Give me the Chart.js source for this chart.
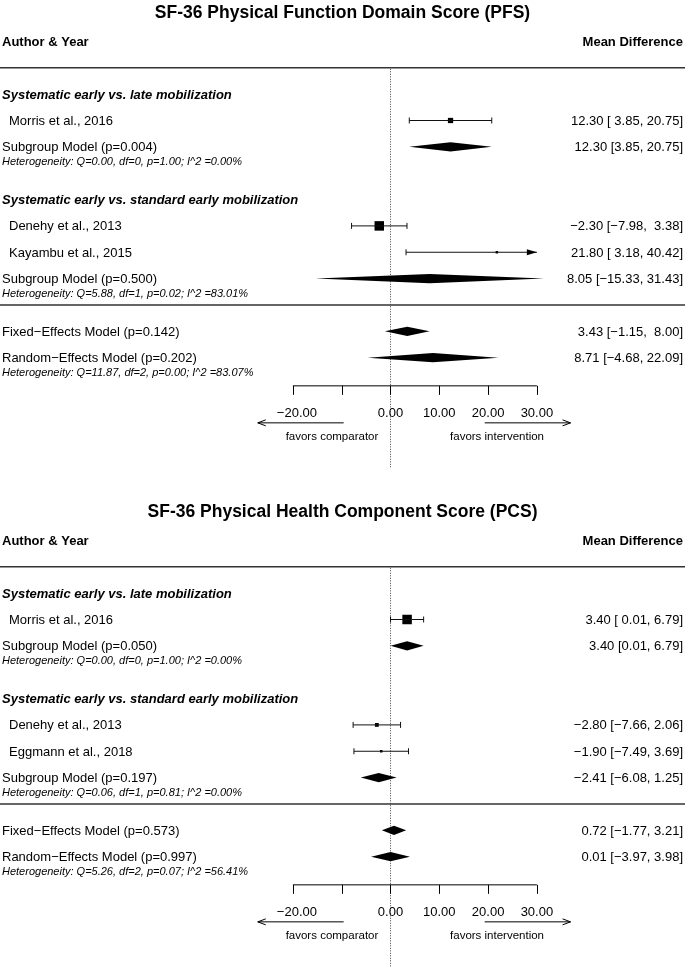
<!DOCTYPE html>
<html>
<head>
<meta charset="utf-8">
<script src="https://cdn.jsdelivr.net/npm/chart.js@4.4.0/dist/chart.umd.min.js"></script>
<style>
  body { margin: 0; background: #fff; }
  canvas { display: block; }
</style>
</head>
<body>
<canvas id="pfsChart" width="685" height="499"></canvas>
<canvas id="pcsChart" width="685" height="468"></canvas>

<script>
    // shared axis / groups
    const axisTicks = [-20, -10, 0, 10, 20, 30];
    const axisTickLabels = ["\u221220.00", "", "0.00", "10.00", "20.00", "30.00"];
    const groupNames = ["Systematic early vs. late mobilization", "Systematic early vs. standard early mobilization"];

    // SF-36 PFS
    const pfsTitle = "SF-36 Physical Function Domain Score (PFS)";
    const pfsStudies = ["Morris et al., 2016", "Denehy et al., 2013", "Kayambu et al., 2015"];
    const pfsEst = [12.30, -2.30, 21.80];
    const pfsLow = [3.85, -7.98, 3.18];
    const pfsHigh = [20.75, 3.38, 40.42];
    const pfsWeight = [29.3, 64.7, 6.0];
    const pfsStudyText = ["12.30 [ 3.85, 20.75]", "\u22122.30 [\u22127.98,  3.38]", "21.80 [ 3.18, 40.42]"];
    const pfsModels = ["Subgroup Model (p=0.004)", "Subgroup Model (p=0.500)", "Fixed\u2212Effects Model (p=0.142)", "Random\u2212Effects Model (p=0.202)"];
    const pfsModelEst = [12.30, 8.05, 3.43, 8.71];
    const pfsModelLow = [3.85, -15.33, -1.15, -4.68];
    const pfsModelHigh = [20.75, 31.43, 8.00, 22.09];
    const pfsModelText = ["12.30 [3.85, 20.75]", "8.05 [\u221215.33, 31.43]", "3.43 [\u22121.15,  8.00]", "8.71 [\u22124.68, 22.09]"];
    const pfsHet = ["Heterogeneity: Q=0.00, df=0, p=1.00; I^2 =0.00%", "Heterogeneity: Q=5.88, df=1, p=0.02; I^2 =83.01%", "", "Heterogeneity: Q=11.87, df=2, p=0.00; I^2 =83.07%"];

    // SF-36 PCS
    const pcsTitle = "SF-36 Physical Health Component Score (PCS)";
    const pcsStudies = ["Morris et al., 2016", "Denehy et al., 2013", "Eggmann et al., 2018"];
    const pcsEst = [3.40, -2.80, -1.90];
    const pcsLow = [0.01, -7.66, -7.49];
    const pcsHigh = [6.79, 2.06, 3.69];
    const pcsWeight = [53.9, 26.3, 19.8];
    const pcsStudyText = ["3.40 [ 0.01, 6.79]", "\u22122.80 [\u22127.66, 2.06]", "\u22121.90 [\u22127.49, 3.69]"];
    const pcsModels = ["Subgroup Model (p=0.050)", "Subgroup Model (p=0.197)", "Fixed\u2212Effects Model (p=0.573)", "Random\u2212Effects Model (p=0.997)"];
    const pcsModelEst = [3.40, -2.41, 0.72, 0.01];
    const pcsModelLow = [0.01, -6.08, -1.77, -3.97];
    const pcsModelHigh = [6.79, 1.25, 3.21, 3.98];
    const pcsModelText = ["3.40 [0.01, 6.79]", "\u22122.41 [\u22126.08, 1.25]", "0.72 [\u22121.77, 3.21]", "0.01 [\u22123.97, 3.98]"];
    const pcsHet = ["Heterogeneity: Q=0.00, df=0, p=1.00; I^2 =0.00%", "Heterogeneity: Q=0.06, df=1, p=0.81; I^2 =0.00%", "", "Heterogeneity: Q=5.26, df=2, p=0.07; I^2 =56.41%"];

    const FONT = "'Liberation Sans', Arial, Helvetica, sans-serif";

    function forest(id, d) {
        const canvas = document.getElementById(id);
        const W = canvas.width, H = canvas.height;
        // row layout (rows counted up from the axis)
        const studyRows = [10, 6, 5];
        const modelRows = [9, 4, 2, 1];
        const headingRows = [11, 7];
        const ruleRows = [12, 3];
        const headerRow = 13, titleRow = 14.12, axisRow = -0.07, bottomRow = -3.19;
        const rowPx = 26.35, row0Px = 384;
        const pxPerUnit = 4.88, zeroPx = 390.5;
        const alim = [axisTicks[0], axisTicks[axisTicks.length - 1]];
        const dy = 1; // text nudge so glyphs sit centred on the row

        const wMin = Math.min(...d.weight), wMax = Math.max(...d.weight);
        const boxSide = d.weight.map(w => 2.5 + 7 * (w - wMin) / (wMax - wMin));

        const datasets = d.est.map((v, i) => ({
            label: d.studies[i] + " CI",
            data: [{x: Math.max(d.low[i], alim[0]), y: studyRows[i]}, {x: Math.min(d.high[i], alim[1]), y: studyRows[i]}],
            showLine: true, borderColor: '#111', borderWidth: 1, pointRadius: 0
        }));
        datasets.push({
            label: "estimate",
            data: d.est.map((v, i) => ({x: v, y: studyRows[i]})),
            pointStyle: 'rect',
            pointRadius: boxSide.map(s => s * Math.SQRT1_2),
            backgroundColor: '#000', borderColor: '#000', borderWidth: 0
        });

        const forestDraw = {
            id: 'forestDraw',
            beforeDatasetsDraw(chart) {
                const ctx = chart.ctx, xs = chart.scales.x, ys = chart.scales.y;
                const X = v => xs.getPixelForValue(v), Y = r => ys.getPixelForValue(r);
                ctx.save();
                // rules
                ctx.strokeStyle = '#333';
                ctx.lineWidth = 1.5;
                ruleRows.forEach(r => {
                    ctx.beginPath();
                    ctx.moveTo(chart.chartArea.left, Y(r));
                    ctx.lineTo(chart.chartArea.right, Y(r));
                    ctx.stroke();
                });
                // zero line
                ctx.strokeStyle = '#444';
                ctx.lineWidth = 1;
                ctx.setLineDash([1, 1.5]);
                ctx.beginPath();
                ctx.moveTo(Math.round(X(0)) + 0.5, Y(ruleRows[0]) + 1);
                ctx.lineTo(Math.round(X(0)) + 0.5, Y(bottomRow));
                ctx.stroke();
                ctx.restore();
            },
            afterDatasetsDraw(chart) {
                const ctx = chart.ctx, xs = chart.scales.x, ys = chart.scales.y;
                const X = v => xs.getPixelForValue(v), Y = r => ys.getPixelForValue(r);
                const L = chart.chartArea.left, R = chart.chartArea.right;
                ctx.save();
                ctx.fillStyle = '#000';
                ctx.strokeStyle = '#111';
                ctx.lineWidth = 1;

                // whisker caps / arrows
                d.est.forEach((v, i) => {
                    const y = Y(studyRows[i]);
                    [[d.low[i], alim[0], -1], [d.high[i], alim[1], 1]].forEach(([val, lim, dir]) => {
                        if (val * dir > lim * dir) {
                            const tip = X(lim);
                            ctx.beginPath();
                            ctx.moveTo(tip, y);
                            ctx.lineTo(tip - dir * 10, y - 3);
                            ctx.lineTo(tip - dir * 10, y + 3);
                            ctx.closePath();
                            ctx.fill();
                        } else {
                            ctx.beginPath();
                            ctx.moveTo(X(val), y - 3);
                            ctx.lineTo(X(val), y + 3);
                            ctx.stroke();
                        }
                    });
                });

                // diamonds
                d.modelEst.forEach((v, i) => {
                    const y = Y(modelRows[i]);
                    ctx.beginPath();
                    ctx.moveTo(X(d.modelLow[i]), y);
                    ctx.lineTo(X(v), y - 4.6);
                    ctx.lineTo(X(d.modelHigh[i]), y);
                    ctx.lineTo(X(v), y + 4.6);
                    ctx.closePath();
                    ctx.fill();
                });

                // axis
                const ay = Y(axisRow);
                ctx.strokeStyle = '#000';
                ctx.beginPath();
                ctx.moveTo(X(alim[0]), ay);
                ctx.lineTo(X(alim[1]), ay);
                axisTicks.forEach(t => {
                    ctx.moveTo(Math.round(X(t)) + 0.5, ay);
                    ctx.lineTo(Math.round(X(t)) + 0.5, ay + 9);
                });
                ctx.stroke();
                ctx.font = '13px ' + FONT;
                ctx.textAlign = 'center';
                ctx.textBaseline = 'middle';
                axisTicks.forEach((t, i) => ctx.fillText(axisTickLabels[i], X(t) + (t < 0 ? 4 : 0), ay + 27 + dy));

                // favours arrows
                ctx.beginPath();
                ctx.moveTo(X(-9.6), ay + 37); ctx.lineTo(X(-27.2), ay + 37);
                ctx.moveTo(X(-27.2) + 8, ay + 34); ctx.lineTo(X(-27.2), ay + 37); ctx.lineTo(X(-27.2) + 8, ay + 40);
                ctx.moveTo(X(19.3), ay + 37); ctx.lineTo(X(36.9), ay + 37);
                ctx.moveTo(X(36.9) - 8, ay + 34); ctx.lineTo(X(36.9), ay + 37); ctx.lineTo(X(36.9) - 8, ay + 40);
                ctx.stroke();
                ctx.font = '11.5px ' + FONT;
                ctx.textAlign = 'right';
                ctx.fillText("favors comparator", X(-2.5), ay + 50 + dy);
                ctx.textAlign = 'left';
                ctx.fillText("favors intervention", X(12.2), ay + 50 + dy);

                // title and header
                ctx.textAlign = 'center';
                ctx.font = 'bold 17.5px ' + FONT;
                ctx.fillText(d.title, (L + R) / 2, Y(titleRow) + dy);
                ctx.font = 'bold 13px ' + FONT;
                ctx.textAlign = 'left';
                ctx.fillText("Author & Year", L + 2, Y(headerRow) + dy);
                ctx.textAlign = 'right';
                ctx.fillText("Mean Difference", R - 2, Y(headerRow) + dy);

                // group headings
                ctx.textAlign = 'left';
                ctx.font = 'italic bold 13px ' + FONT;
                groupNames.forEach((g, i) => ctx.fillText(g, L + 2, Y(headingRows[i]) + dy));

                // study rows
                ctx.font = '13px ' + FONT;
                d.studies.forEach((s, i) => {
                    ctx.textAlign = 'left';
                    ctx.fillText(s, L + 9, Y(studyRows[i]) + dy);
                    ctx.textAlign = 'right';
                    ctx.fillText(d.studyText[i], R - 2, Y(studyRows[i]) + dy);
                });
                // model rows
                d.models.forEach((m, i) => {
                    ctx.font = '13px ' + FONT;
                    ctx.textAlign = 'left';
                    ctx.fillText(m, L + 2, Y(modelRows[i]) + dy);
                    ctx.textAlign = 'right';
                    ctx.fillText(d.modelText[i], R - 2, Y(modelRows[i]) + dy);
                    if (d.het[i]) {
                        ctx.font = 'italic 11px ' + FONT;
                        ctx.textAlign = 'left';
                        ctx.fillText(d.het[i], L + 2, Y(modelRows[i]) + 14 + dy);
                    }
                });
                ctx.restore();
            }
        };

        return new Chart(canvas, {
            type: 'scatter',
            data: {datasets: datasets},
            options: {
                responsive: false,
                animation: false,
                devicePixelRatio: 1,
                layout: {padding: 0, autoPadding: false},
                plugins: {legend: {display: false}, tooltip: {enabled: false}},
                scales: {
                    x: {type: 'linear', display: false, bounds: 'data', min: -zeroPx / pxPerUnit, max: (W - zeroPx) / pxPerUnit},
                    y: {type: 'linear', display: false, bounds: 'data', min: (row0Px - H) / rowPx, max: row0Px / rowPx}
                }
            },
            plugins: [forestDraw]
        });
    }

    forest('pfsChart', {
        title: pfsTitle, studies: pfsStudies, est: pfsEst, low: pfsLow, high: pfsHigh, weight: pfsWeight,
        studyText: pfsStudyText, models: pfsModels, modelEst: pfsModelEst, modelLow: pfsModelLow,
        modelHigh: pfsModelHigh, modelText: pfsModelText, het: pfsHet
    });
    forest('pcsChart', {
        title: pcsTitle, studies: pcsStudies, est: pcsEst, low: pcsLow, high: pcsHigh, weight: pcsWeight,
        studyText: pcsStudyText, models: pcsModels, modelEst: pcsModelEst, modelLow: pcsModelLow,
        modelHigh: pcsModelHigh, modelText: pcsModelText, het: pcsHet
    });
</script>
</body>
</html>
